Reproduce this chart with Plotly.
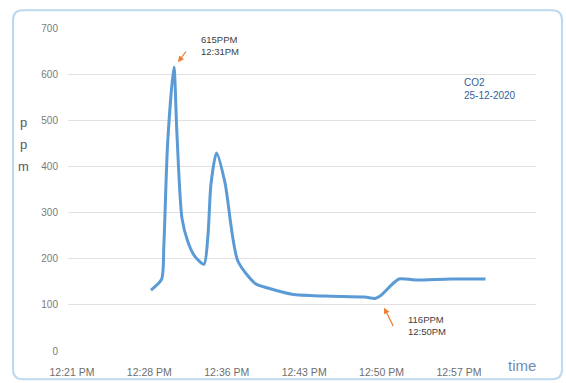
import plotly.graph_objects as go

# ---------------- data ----------------
times = [
    "2020-12-25 12:28:21", "2020-12-25 12:29:20", "2020-12-25 12:29:33",
    "2020-12-25 12:29:54", "2020-12-25 12:30:29", "2020-12-25 12:30:46",
    "2020-12-25 12:31:14", "2020-12-25 12:31:46", "2020-12-25 12:32:26",
    "2020-12-25 12:33:17", "2020-12-25 12:33:39", "2020-12-25 12:33:56",
    "2020-12-25 12:34:27", "2020-12-25 12:35:14", "2020-12-25 12:36:26",
    "2020-12-25 12:38:07", "2020-12-25 12:39:08", "2020-12-25 12:41:28",
    "2020-12-25 12:44:32", "2020-12-25 12:48:13", "2020-12-25 12:49:11",
    "2020-12-25 12:49:40", "2020-12-25 12:51:25", "2020-12-25 12:52:54",
    "2020-12-25 12:56:15", "2020-12-25 12:59:28",
]
co2_ppm = [
    132, 155, 230,
    450, 615, 470,
    288, 238, 205,
    188, 250, 362,
    429, 365, 195,
    145, 137, 123,
    119, 117, 114,
    119, 156, 154,
    156, 156,
]
tick_times = ["2020-12-25 12:21:00", "2020-12-25 12:28:12", "2020-12-25 12:35:24",
              "2020-12-25 12:42:36", "2020-12-25 12:49:48", "2020-12-25 12:57:00"]
tick_labels = ["12:21 PM", "12:28 PM", "12:36 PM", "12:43 PM", "12:50 PM", "12:57 PM"]
y_ticks = [0, 100, 200, 300, 400, 500, 600, 700]

peak_label = "615PPM<br>12:31PM"
low_label = "116PPM<br>12:50PM"
title_label = "CO2<br>25-12-2020"

# ---------------- layout helpers ----------------
W, H = 566, 383
L, R, T, B = 68, 536, 27.7, 350.7
FONT = "Liberation Sans, Arial"


def px(x):
    return (x - L) / (R - L)


def py(y):
    return (B - y) / (B - T)


fig = go.Figure()
fig.add_trace(go.Scatter(
    x=times, y=co2_ppm, mode="lines",
    line=dict(color="#5b9bd5", width=3, shape="spline", smoothing=0.7),
    hoverinfo="skip", showlegend=False,
))

# rounded border
x0, x1, y0, y1, r = 13, 562, 10, 379, 10
path = (f"M {px(x0 + r)} {py(y0)} L {px(x1 - r)} {py(y0)} "
        f"Q {px(x1)} {py(y0)} {px(x1)} {py(y0 + r)} L {px(x1)} {py(y1 - r)} "
        f"Q {px(x1)} {py(y1)} {px(x1 - r)} {py(y1)} L {px(x0 + r)} {py(y1)} "
        f"Q {px(x0)} {py(y1)} {px(x0)} {py(y1 - r)} L {px(x0)} {py(y0 + r)} "
        f"Q {px(x0)} {py(y0)} {px(x0 + r)} {py(y0)} Z")
fig.add_shape(type="path", path=path, xref="paper", yref="paper",
              line=dict(color="#bcd9ee", width=2), layer="below")

txt_font = dict(family=FONT, size=9.5, color="#404040")
anns = [
    dict(x=px(199), y=py(45), text=peak_label, xanchor="left", yanchor="middle",
         font=txt_font, align="left"),
    dict(x=px(406), y=py(325), text=low_label, xanchor="left", yanchor="middle",
         font=txt_font, align="left"),
    dict(x=px(462), y=py(89), text=title_label, xanchor="left", yanchor="middle",
         font=dict(family=FONT, size=10, color="#2e5f9a"), align="left"),
    dict(x=px(23), y=py(122), text="p", xanchor="center", yanchor="middle",
         font=dict(family=FONT, size=13, color="#595959")),
    dict(x=px(23), y=py(144), text="p", xanchor="center", yanchor="middle",
         font=dict(family=FONT, size=13, color="#595959")),
    dict(x=px(23), y=py(166), text="m", xanchor="center", yanchor="middle",
         font=dict(family=FONT, size=13, color="#595959")),
    dict(x=px(522), y=py(365), text="time", xanchor="center", yanchor="middle",
         font=dict(family=FONT, size=15, color="#6b8fb8")),
]
for a in anns:
    a.update(xref="paper", yref="paper", showarrow=False)
    fig.add_annotation(**a)

# orange arrows pointing at peak and low
fig.add_annotation(x="2020-12-25 12:30:52", y=626, xref="x", yref="y", text="",
                   showarrow=True, arrowhead=2, arrowsize=1, arrowwidth=1.2,
                   arrowcolor="#ed7d31", ax=9, ay=-12)
fig.add_annotation(x="2020-12-25 12:50:02", y=94, xref="x", yref="y", text="",
                   showarrow=True, arrowhead=2, arrowsize=1, arrowwidth=1.2,
                   arrowcolor="#ed7d31", ax=10, ay=20)

fig.update_layout(
    width=W, height=H,
    margin=dict(l=L, r=W - R, t=T, b=H - B),
    paper_bgcolor="white", plot_bgcolor="white",
    xaxis=dict(type="date", range=["2020-12-25 12:20:38", "2020-12-25 13:04:10"],
               tickvals=tick_times, ticktext=tick_labels, showgrid=False,
               zeroline=False, showline=False, ticks="outside", ticklen=11,
               tickcolor="rgba(0,0,0,0)", automargin=False,
               tickfont=dict(family=FONT, size=10.5, color="#6e6e6e")),
    yaxis=dict(range=[0, 700], tickvals=y_ticks, showgrid=True, gridcolor="#e1e1e1",
               gridwidth=1, zeroline=False, showline=False, ticks="outside", ticklen=7,
               tickcolor="rgba(0,0,0,0)", automargin=False,
               tickfont=dict(family=FONT, size=10, color="#7a7a7a")),
)

fig.write_html("out.html", config={"displayModeBar": False},
               post_script="document.body.style.margin='0px';document.body.style.overflow='hidden';")
